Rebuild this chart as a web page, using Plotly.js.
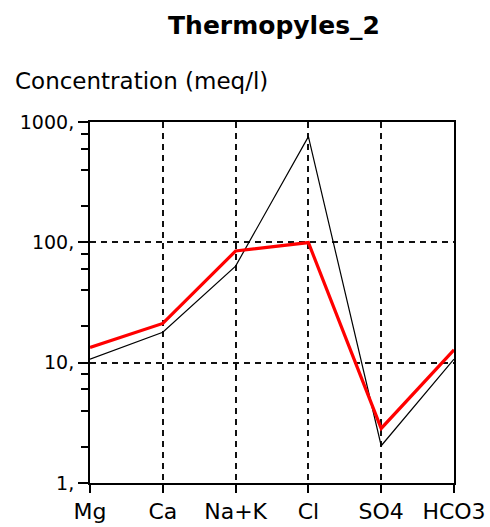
<!DOCTYPE html>
<html>
<head>
<meta charset="utf-8">
<script src="https://cdn.plot.ly/plotly-3.0.1.min.js"></script>
<style>html,body{margin:0;padding:0;background:#fff;}#chart{width:490px;height:527px;}</style>
</head>
<body>
<div id="chart"></div>
<script>
// Data
const categories = ["Mg", "Ca", "Na+K", "Cl", "SO4", "HCO3"];
const seriesBlack = [10.7, 17.9, 63.5, 756, 2.04, 10.7];
const seriesRed = [13.4, 21.2, 84.7, 99.5, 2.84, 12.8];
const yTickVals = [1, 10, 100, 1000];
const yTickText = ["1,", "10,", "100,", "1000,"];
const yMinorVals = [2, 4, 6, 8, 20, 40, 60, 80, 200, 400, 600, 800];

const FONT = "DejaVu Sans, Arial, sans-serif";

const traces = [
  {
    x: categories, y: seriesBlack, type: "scatter", mode: "lines",
    line: {color: "#000000", width: 1.2}, hoverinfo: "skip", showlegend: false
  },
  {
    x: categories, y: seriesRed, type: "scatter", mode: "lines",
    line: {color: "#ff0000", width: 3.2}, hoverinfo: "skip", showlegend: false
  }
];

const layout = {
  width: 490, height: 527,
  margin: {l: 90, r: 36, t: 122, b: 44},
  paper_bgcolor: "#ffffff", plot_bgcolor: "#ffffff",
  showlegend: false,
  title: {
    text: "<b>Thermopyles_2</b>",
    font: {family: FONT, size: 25, color: "#000"},
    x: 274 / 490, xanchor: "center", xref: "container",
    y: 1 - 25 / 527, yanchor: "middle", yref: "container"
  },
  xaxis: {
    type: "category", range: [0, 5],
    showline: true, linecolor: "#000", linewidth: 2, mirror: true,
    ticks: "outside", ticklen: 8, tickwidth: 2, tickcolor: "#000",
    showgrid: true, gridcolor: "#111", gridwidth: 2, griddash: "6px,5px",
    tickfont: {family: FONT, size: 22, color: "#000"},
    zeroline: false, fixedrange: true
  },
  yaxis: {
    type: "log", range: [0, 3],
    tickmode: "array", tickvals: yTickVals, ticktext: yTickText,
    showline: true, linecolor: "#000", linewidth: 2, mirror: true,
    ticks: "outside", ticklen: 10, tickwidth: 2, tickcolor: "#000",
    minor: {tickmode: "array", tickvals: yMinorVals, ticks: "outside", ticklen: 7, tickwidth: 2, tickcolor: "#000", showgrid: false},
    showgrid: true, gridcolor: "#111", gridwidth: 2, griddash: "6px,5px",
    tickfont: {family: FONT, size: 19, color: "#000"},
    zeroline: false, fixedrange: true
  },
  annotations: [{
    text: "Concentration (meq/l)",
    xref: "paper", yref: "paper",
    x: (13 - 90) / 364, xanchor: "left",
    y: (483 - 81) / 361, yanchor: "middle",
    showarrow: false,
    font: {family: FONT, size: 23, color: "#000"}
  }]
};

Plotly.newPlot("chart", traces, layout, {displayModeBar: false, staticPlot: true});
</script>
</body>
</html>
